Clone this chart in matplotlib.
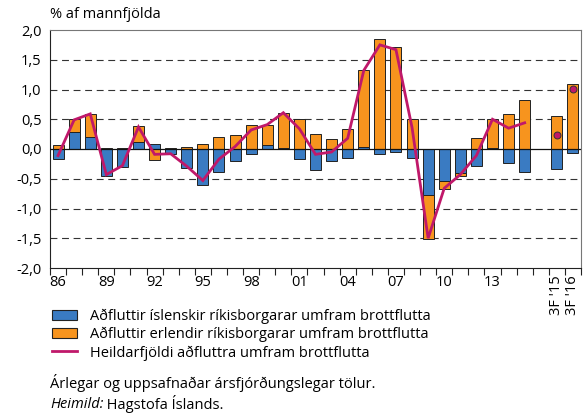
import matplotlib
matplotlib.use("Agg")
import matplotlib.pyplot as plt
import numpy as np
from matplotlib.patches import Patch
from matplotlib.lines import Line2D

plt.rcParams["font.family"] = ["Open Sans", "DejaVu Sans"]

# Annual figures 1986-2015, % of population
years = list(range(1986, 2016))
icelandic = [-0.17, 0.28, 0.21, -0.46, -0.30, 0.11, 0.08, -0.09, -0.32, -0.61,
             -0.39, -0.21, -0.09, 0.06, 0.02, -0.17, -0.36, -0.21, -0.15, 0.04,
             -0.09, -0.05, -0.15, -0.77, -0.54, -0.41, -0.29, 0.01, -0.23, -0.38]
foreign = [0.07, 0.22, 0.38, 0.02, 0.02, 0.27, -0.18, 0.02, 0.04, 0.08,
           0.21, 0.24, 0.41, 0.35, 0.59, 0.51, 0.26, 0.17, 0.33, 1.28,
           1.85, 1.72, 0.51, -0.74, -0.14, -0.04, 0.19, 0.50, 0.58, 0.83]
total = [-0.11, 0.49, 0.59, -0.43, -0.28, 0.37, -0.09, -0.08, -0.29, -0.53,
         -0.17, 0.04, 0.32, 0.41, 0.61, 0.34, -0.09, -0.05, 0.18, 1.32,
         1.75, 1.67, 0.36, -1.50, -0.66, -0.43, -0.11, 0.50, 0.35, 0.44]

# Cumulative first three quarters
q_labels = ["3F '15", "3F '16"]
q_icelandic = [-0.34, -0.07]
q_foreign = [0.55, 1.10]
q_total = [0.24, 1.01]

BLUE = "#3a7bc2"
ORANGE = "#f7941e"
MAGENTA = "#c0186a"
FS = 10.5

x_year = np.arange(len(years))
x_q = np.arange(len(q_labels)) + len(years) + 1
x_all = np.concatenate([x_year, x_q])
blue_all = np.array(icelandic + q_icelandic)
orange_all = np.array(foreign + q_foreign)
# orange stacks on blue when both point the same way
orange_bottom = np.where(np.sign(orange_all) == np.sign(blue_all), blue_all, 0)

fig = plt.figure(figsize=(5.86, 4.18), dpi=100)
ax = fig.add_axes([50 / 586, 1 - 268 / 418, 531 / 586, 238 / 418])

w = 0.68
ax.bar(x_all, blue_all, width=w, color=BLUE, edgecolor="#222222", linewidth=0.7, zorder=3)
ax.bar(x_all, orange_all, width=w, bottom=orange_bottom, color=ORANGE,
       edgecolor="#222222", linewidth=0.7, zorder=3)
ax.plot(x_year, total, color=MAGENTA, lw=2.0, zorder=4, solid_joinstyle="miter")
ax.plot(x_q, q_total, "o", color=MAGENTA, markersize=5, markeredgecolor="#333333",
        markeredgewidth=0.7, zorder=5)

ax.set_xlim(-0.5, x_q[-1] + 0.5)
ax.set_ylim(-2, 2)

for yv in [-1.5, -1.0, -0.5, 0.5, 1.0, 1.5]:
    ax.axhline(yv, color="#333333", lw=0.8, dashes=(6.2, 4.2), zorder=1)
ax.axhline(0, color="#111111", lw=0.9, zorder=3.5)

yt = np.arange(-2, 2.01, 0.5)
ax.set_yticks(yt)
ax.set_yticklabels([f"{v:.1f}".replace(".", ",") for v in yt], fontsize=FS)
ax.tick_params(axis="y", length=0, pad=6)

tick_pos = list(x_year[::3]) + list(x_q)
tick_lab = [f"{y % 100:02d}" for y in years[::3]] + q_labels
ax.set_xticks(tick_pos)
ax.set_xticklabels(tick_lab, fontsize=FS)
for lab in ax.get_xticklabels()[-2:]:
    lab.set_rotation(90)
    lab.set_va("top")
ax.set_xticks(np.arange(-0.5, x_q[-1] + 1), minor=True)
ax.tick_params(axis="x", which="major", length=0, pad=5)
ax.tick_params(axis="x", which="minor", length=5, width=0.8, color="#222222")

for side in ["left", "bottom"]:
    ax.spines[side].set_color("#222222")
for side in ["top", "right"]:
    ax.spines[side].set_color("#777777")

fig.text(50 / 586, 1 - 15 / 418, "% af mannfjölda", fontsize=FS, va="center", ha="left")

handles = [Patch(facecolor=BLUE, edgecolor="#222222", linewidth=0.8),
           Patch(facecolor=ORANGE, edgecolor="#222222", linewidth=0.8),
           Line2D([], [], color=MAGENTA, lw=2)]
labels = ["Aðfluttir íslenskir ríkisborgarar umfram brottflutta",
          "Aðfluttir erlendir ríkisborgarar umfram brottflutta",
          "Heildarfjöldi aðfluttra umfram brottflutta"]
fig.legend(handles, labels, loc="upper left", bbox_to_anchor=(46 / 586, 1 - 303 / 418),
           frameon=False, fontsize=FS, handlelength=1.7, handleheight=0.7,
           handletextpad=0.9, labelspacing=0.2, borderaxespad=0)

fig.text(50 / 586, 1 - 383 / 418, "Árlegar og uppsafnaðar ársfjórðungslegar tölur.",
         fontsize=FS, va="center", ha="left")
src = fig.text(50 / 586, 1 - 404 / 418, "Heimild:", fontsize=FS, va="center",
               ha="left", style="italic")
ax.annotate(" Hagstofa Íslands.", xy=(1, 0.5), xycoords=src, fontsize=FS,
            va="center", ha="left", annotation_clip=False)

fig.savefig("out.png", dpi=100)
